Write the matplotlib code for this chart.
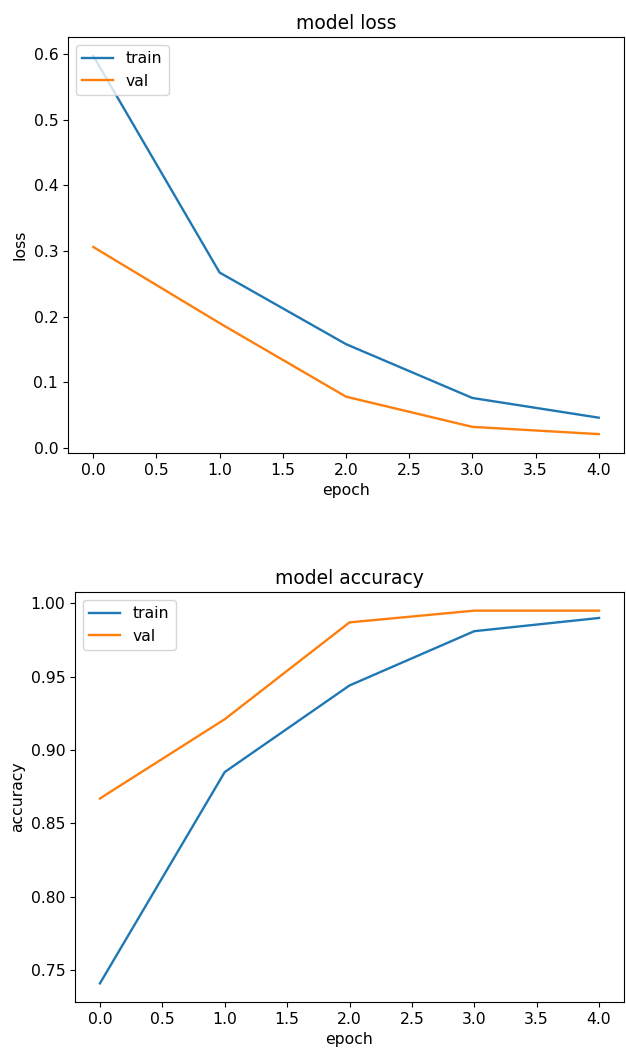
import matplotlib
matplotlib.use("Agg")
import matplotlib.pyplot as plt

# training history
epochs = [0, 1, 2, 3, 4]
loss_train = [0.597, 0.267, 0.158, 0.076, 0.046]
loss_val = [0.306, 0.190, 0.078, 0.032, 0.021]
acc_train = [0.741, 0.885, 0.944, 0.981, 0.990]
acc_val = [0.867, 0.921, 0.987, 0.995, 0.995]

plt.rcParams["font.size"] = 11.25
plt.rcParams["lines.linewidth"] = 1.7

W, H = 626, 1050
fig = plt.figure(figsize=(W / 100, H / 100), dpi=100)

# Loss plot
ax1 = fig.add_axes([68 / W, 1 - 453 / H, 556 / W, 416 / H])
ax1.plot(epochs, loss_train, label="train")
ax1.plot(epochs, loss_val, label="val")
ax1.set_title("model loss", fontsize=13.5)
ax1.set_ylabel("loss")
ax1.set_xlabel("epoch")
ax1.legend(loc="upper left")

# Accuracy plot
ax2 = fig.add_axes([75 / W, 1 - 1002 / H, 549 / W, 410 / H])
ax2.plot(epochs, acc_train, label="train")
ax2.plot(epochs, acc_val, label="val")
ax2.set_title("model accuracy", fontsize=13.5)
ax2.set_ylabel("accuracy")
ax2.set_xlabel("epoch")
ax2.legend(loc="upper left")

fig.savefig("out.png", dpi=100)
